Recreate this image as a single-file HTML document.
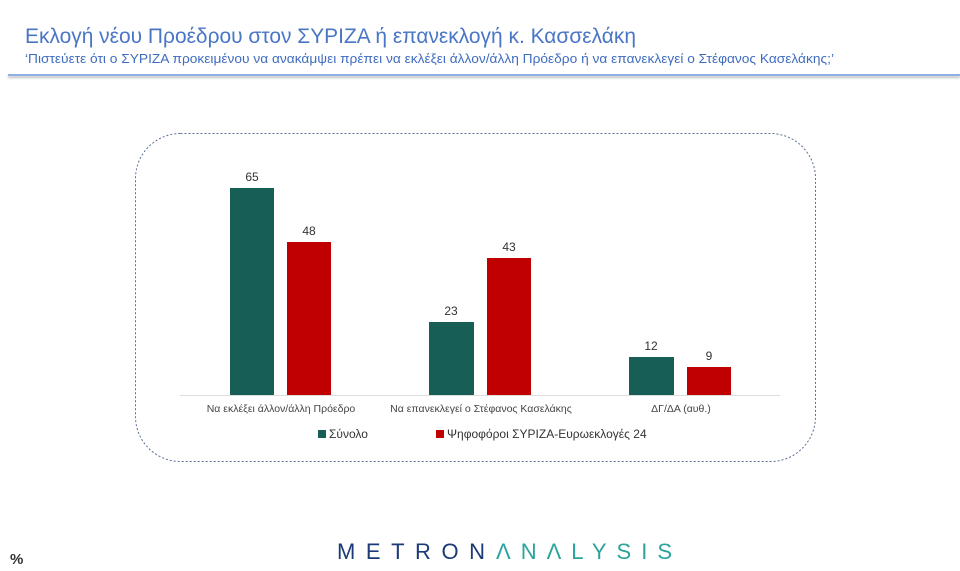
<!DOCTYPE html>
<html><head><meta charset="utf-8"><style>
body{margin:0;width:960px;height:571px;background:#fff;overflow:hidden;position:relative;font-family:"Liberation Sans","DejaVu Sans",sans-serif}
</style></head><body>
<div style="position:absolute;left:8px;top:74px;width:952px;height:2px;background:#8fb0e6;box-shadow:0 2px 2px #bbb"></div>
<svg width="960" height="571" style="position:absolute;left:0;top:0" font-family="Liberation Sans, DejaVu Sans, sans-serif">
<text x="25" y="43" font-size="21" fill="#4a76c6" textLength="611" lengthAdjust="spacingAndGlyphs">Εκλογή νέου Προέδρου στον ΣΥΡΙΖΑ ή επανεκλογή κ. Κασσελάκη</text>
<text x="25" y="63" font-size="13" fill="#3f6cc0" textLength="809" lengthAdjust="spacingAndGlyphs">‘Πιστεύετε ότι ο ΣΥΡΙΖΑ προκειμένου να ανακάμψει πρέπει να εκλέξει άλλον/άλλη Πρόεδρο ή να επανεκλεγεί ο Στέφανος Κασελάκης;’</text>
<rect x="135.5" y="133.5" width="680" height="328" rx="45" fill="none" stroke="#5b6f95" stroke-dasharray="2,2"/>
<line x1="180" y1="395.5" x2="780" y2="395.5" stroke="#ddd"/>
<g fill="#175e56">
<rect x="230" y="188" width="44" height="207"/>
<rect x="429" y="322" width="45" height="73"/>
<rect x="629" y="357" width="45" height="38"/>
</g>
<g fill="#c00000">
<rect x="287" y="242" width="44" height="153"/>
<rect x="487" y="258" width="44" height="137"/>
<rect x="687" y="367" width="44" height="28"/>
</g>
<g font-size="12" fill="#333" text-anchor="middle">
<text x="252" y="181">65</text><text x="309" y="235">48</text>
<text x="451" y="315">23</text><text x="509" y="251">43</text>
<text x="651" y="350">12</text><text x="709" y="360">9</text>
</g>
<g font-size="10.5" fill="#444" text-anchor="middle">
<text x="281" y="412">Να εκλέξει άλλον/άλλη Πρόεδρο</text>
<text x="481" y="412">Να επανεκλεγεί ο Στέφανος Κασελάκης</text>
<text x="681" y="412">ΔΓ/ΔΑ (αυθ.)</text>
</g>
<rect x="318" y="430" width="8" height="8" fill="#175e56"/>
<text x="329" y="438" font-size="12" fill="#333">Σύνολο</text>
<rect x="436" y="430" width="8" height="8" fill="#c00000"/>
<text x="447" y="438" font-size="12" fill="#333">Ψηφοφόροι ΣΥΡΙΖΑ-Ευρωεκλογές 24</text>
<g font-size="22">
<text x="337" y="559" fill="#1b3a78" textLength="148" lengthAdjust="spacing">METRON</text>
<text x="496" y="559" fill="#2aa49c" textLength="176" lengthAdjust="spacing">ΛNΛLYSIS</text>
</g>
<text x="10" y="564" font-size="15" font-weight="bold" fill="#333">%</text>
</svg>
</body></html>
